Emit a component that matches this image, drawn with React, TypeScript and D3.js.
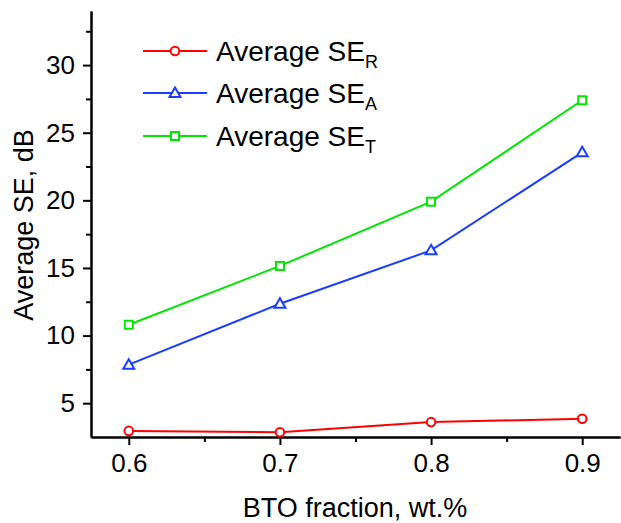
import React, { useEffect, useRef } from 'react'
import * as d3 from 'd3'

const fractions = [0.6, 0.7, 0.8, 0.9]
const seR = [2.95, 2.85, 3.6, 3.85]
const seA = [7.85, 12.35, 16.3, 23.55]
const seT = [10.8, 15.15, 19.9, 27.4]
const xTicks = [0.6, 0.7, 0.8, 0.9]
const xMinor = [0.65, 0.75, 0.85]
const yTicks = [5, 10, 15, 20, 25, 30]
const yMinor = [7.5, 12.5, 17.5, 22.5, 27.5, 32.5]

const series = [
  { name: 'R', values: seR, color: '#ff0000', marker: 'circle' },
  { name: 'A', values: seA, color: '#1a3cff', marker: 'triangle' },
  { name: 'T', values: seT, color: '#00e600', marker: 'square' },
]

const W = 621
const H = 523
const FONT = '"Liberation Sans", Arial, sans-serif'

function drawMarker(g: any, type: string, x: number, y: number, color: string) {
  if (type === 'circle') {
    g.append('circle').attr('cx', x).attr('cy', y).attr('r', 4.3)
      .attr('fill', 'white').attr('stroke', color).attr('stroke-width', 2)
  } else if (type === 'square') {
    g.append('rect').attr('x', x - 4).attr('y', y - 4).attr('width', 8).attr('height', 8)
      .attr('fill', 'white').attr('stroke', color).attr('stroke-width', 2)
  } else {
    g.append('path')
      .attr('d', `M${x},${y - 5.5}L${x + 5.5},${y + 4}L${x - 5.5},${y + 4}Z`)
      .attr('fill', 'white').attr('stroke', color).attr('stroke-width', 2)
  }
}

export default function App() {
  const ref = useRef<SVGSVGElement>(null)

  useEffect(() => {
    const svg = d3.select(ref.current)
    svg.selectAll('*').remove()

    const x = d3.scaleLinear().domain([0.575, 0.925]).range([91, 620])
    const y = d3.scaleLinear().domain([2.5, 34]).range([437, 11])

    // y axis
    const ya = svg.append('g').attr('transform', 'translate(91,0)')
      .call(d3.axisLeft(y).tickValues(yTicks).tickSize(8).tickPadding(8).tickSizeOuter(0).tickFormat(d3.format('d')))
    ya.append('g').call(d3.axisLeft(y).tickValues(yMinor).tickSize(5).tickFormat(() => '').tickSizeOuter(0))
    ya.selectAll('path.domain').attr('stroke-width', 2)
    ya.selectAll('line').attr('stroke-width', 2)
    ya.selectAll('text').attr('font-size', 26).attr('font-family', FONT).attr('fill', '#000')

    // x axis
    const xa = svg.append('g').attr('transform', 'translate(0,437)')
      .call(d3.axisBottom(x).tickValues(xTicks).tickSize(8).tickPadding(9).tickSizeOuter(0).tickFormat(d3.format('.1f')))
    xa.append('g').call(d3.axisBottom(x).tickValues(xMinor).tickSize(5).tickFormat(() => '').tickSizeOuter(0))
    xa.selectAll('path.domain').attr('stroke-width', 2)
    xa.selectAll('line').attr('stroke-width', 2)
    xa.selectAll('text').attr('font-size', 26).attr('font-family', FONT).attr('fill', '#000')

    // lines and markers
    const line = d3.line<number>()
      .x((d, i) => x(fractions[i]))
      .y(d => y(d))

    series.forEach(s => {
      svg.append('path').datum(s.values)
        .attr('d', line)
        .attr('fill', 'none')
        .attr('stroke', s.color)
        .attr('stroke-width', 2)
      const g = svg.append('g')
      s.values.forEach((v, i) => drawMarker(g, s.marker, x(fractions[i]), y(v), s.color))
    })

    // legend
    const rows = [51, 93, 136]
    series.forEach((s, i) => {
      const ly = rows[i]
      svg.append('line').attr('x1', 143).attr('x2', 207).attr('y1', ly).attr('y2', ly)
        .attr('stroke', s.color).attr('stroke-width', 2)
      drawMarker(svg.append('g'), s.marker, 175, ly, s.color)
      const t = svg.append('text')
        .attr('x', 216).attr('y', ly + 10)
        .attr('font-family', FONT).attr('font-size', 28).attr('fill', '#000')
      t.append('tspan').text('Average SE')
      t.append('tspan').attr('font-size', 18).attr('dy', 7).text(s.name)
    })

    // axis titles
    svg.append('text')
      .attr('x', 355).attr('y', 517)
      .attr('text-anchor', 'middle')
      .attr('font-family', FONT).attr('font-size', 27).attr('fill', '#000')
      .text('BTO fraction, wt.%')

    svg.append('text')
      .attr('transform', 'translate(33,225) rotate(-90)')
      .attr('text-anchor', 'middle')
      .attr('font-family', FONT).attr('font-size', 27).attr('fill', '#000')
      .text('Average SE, dB')
  }, [])

  return (
    <svg ref={ref} width={W} height={H}
      style={{ position: 'absolute', left: 0, top: 0, background: 'white' }} />
  )
}
